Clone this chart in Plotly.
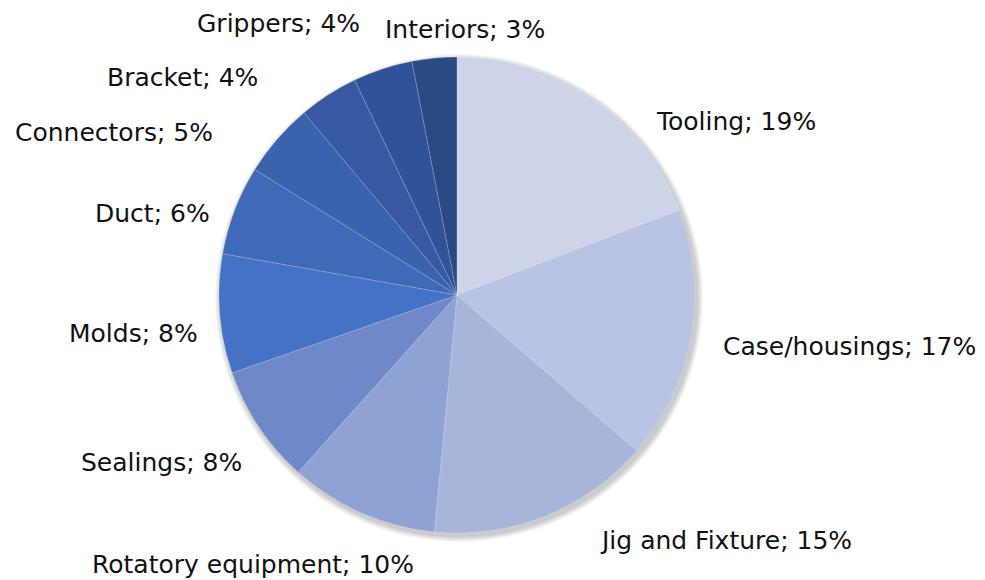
import plotly.graph_objects as go

# Share of applications (percent)
categories = ["Tooling", "Case/housings", "Jig and Fixture", "Rotatory equipment",
              "Sealings", "Molds", "Duct", "Connectors", "Bracket", "Grippers", "Interiors"]
shares = [19, 17, 15, 10, 8, 8, 6, 5, 4, 4, 3]
slice_colors = ["#CDD3E9", "#B9C3E2", "#A7B5DB", "#8FA2D4", "#6E88CA", "#4472C4",
                "#3F69B9", "#3B62AD", "#3659A2", "#305298", "#2B4A83"]

W, H = 985, 580
cx, cy, r = 457, 295, 238

# Data-label placement around the pie (pixel centre of each label)
label_pos = [(736, 119), (849, 344), (726, 538), (253, 562), (161, 460), (133, 331),
             (152, 211), (114, 130), (182, 76), (278, 22), (465, 28)]

fig = go.Figure(go.Pie(
    labels=categories,
    values=shares,
    sort=False,
    direction="clockwise",
    rotation=0,
    marker=dict(colors=slice_colors, line=dict(color="rgba(255,255,255,0.3)", width=0.6)),
    textinfo="none",
    showlegend=False,
    hoverinfo="label+value",
    domain=dict(x=[(cx - r) / W, (cx + r) / W], y=[(H - cy - r) / H, (H - cy + r) / H]),
))

# Soft drop shadow under the pie
shapes = []
for k in range(6, 0, -1):
    rr = r + k
    ox, oy = 2, 3
    shapes.append(dict(
        type="circle", xref="paper", yref="paper", layer="below",
        x0=(cx + ox - rr) / W, x1=(cx + ox + rr) / W,
        y0=(H - cy - oy - rr) / H, y1=(H - cy - oy + rr) / H,
        fillcolor="rgba(0,0,0,0.035)", line=dict(width=0),
    ))

annotations = []
for name, val, (px, py) in zip(categories, shares, label_pos):
    annotations.append(dict(
        text=f"{name}; {val}%",
        x=px / W, y=1 - (py + 2) / H, xref="paper", yref="paper",
        xanchor="center", yanchor="middle", showarrow=False,
        font=dict(family="DejaVu Sans, sans-serif", size=25, color="#111111"),
    ))

fig.update_layout(
    width=W, height=H,
    margin=dict(l=0, r=0, t=0, b=0),
    paper_bgcolor="white",
    plot_bgcolor="white",
    shapes=shapes,
    annotations=annotations,
)

fig.write_html("out.html")
